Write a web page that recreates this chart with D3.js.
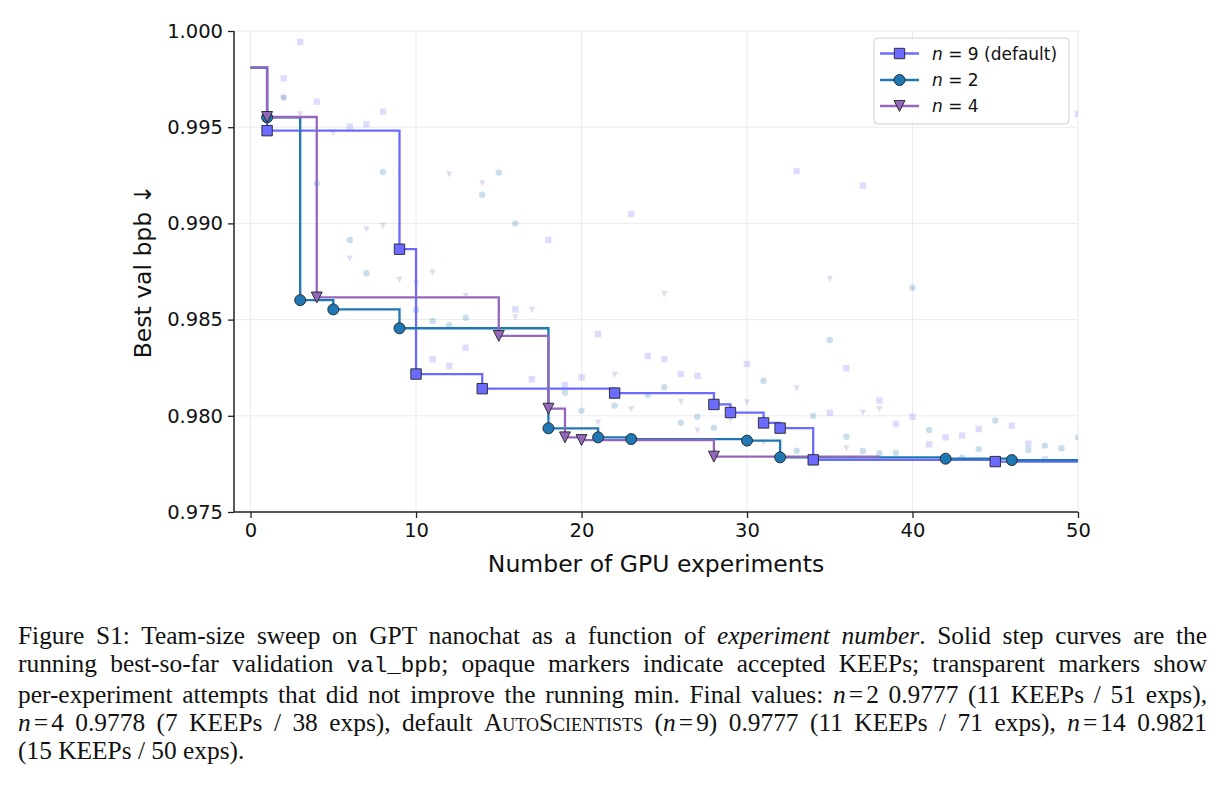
<!DOCTYPE html>
<html>
<head>
<meta charset="utf-8">
<script src="https://cdn.jsdelivr.net/npm/d3@7"></script>
<style>
  html, body { margin: 0; padding: 0; background: #fff; }
  #wrap { position: relative; width: 1223px; height: 787px; overflow: hidden; }
  svg { position: absolute; left: 0; top: 0; }
  #caption {
    position: absolute; left: 18px; top: 621px; width: 1189px;
    font-family: "Liberation Serif", "Times New Roman", serif;
    font-size: 25.4px; line-height: 28px; color: #111;
  }
  #caption .ln { text-align: justify; text-align-last: justify; white-space: nowrap; }
  #caption .ln.last { text-align: left; text-align-last: left; }
  #caption .tt { font-family: "Liberation Mono", "DejaVu Sans Mono", monospace; font-size: 22.5px; }
  #caption .sc { font-variant: small-caps; }
  #caption .eq { margin: 0 0.12em; }
</style>
</head>
<body>
<div id="wrap">
  <svg id="chart" width="1223" height="787"></svg>
  <div id="caption"></div>
</div>
<script>
// ---------------- data ----------------
const xTicks = [0, 10, 20, 30, 40, 50];
const yTicks = [0.975, 0.980, 0.985, 0.990, 0.995, 1.000];
const seriesNames = ["n = 9 (default)", "n = 2", "n = 4"];
const seriesColors = ["#6b6bff", "#1f77b4", "#9467bd"];
const seriesMarkers = ["square", "circle", "triangle"];
const startValue = 0.9981;

// accepted KEEPs (opaque markers)
const n9KeepX = [1, 9, 10, 14, 22, 28, 29, 31, 32, 34, 45];
const n9KeepY = [0.99482, 0.98866, 0.98217, 0.98141, 0.98118, 0.98059, 0.98017, 0.97963, 0.97936, 0.97771, 0.97762];
const n9End = 70;
const n2KeepX = [1, 3, 5, 9, 18, 21, 23, 30, 32, 42, 46];
const n2KeepY = [0.99551, 0.98601, 0.98553, 0.98455, 0.97935, 0.97888, 0.97879, 0.97871, 0.97784, 0.97777, 0.97770];
const n2End = 50;
const n4KeepX = [1, 4, 15, 18, 19, 20, 28];
const n4KeepY = [0.99553, 0.98615, 0.98415, 0.98037, 0.97888, 0.97874, 0.97788];
const n4End = 38;

// non-improving attempts (transparent markers)
const n9TryX = [2, 3, 4, 6, 7, 8, 11, 12, 13, 16, 17, 18, 19, 20, 21, 23, 24, 25, 26, 27, 30, 33, 35, 36, 37, 38, 39, 40, 41, 42, 43, 44, 46, 47, 48, 50];
const n9TryY = [0.99754, 0.99943, 0.99633, 0.99503, 0.99515, 0.99581, 0.98294, 0.98259, 0.98354, 0.98553, 0.98190, 0.98914, 0.98160, 0.98200, 0.98425, 0.99049, 0.98311, 0.98295, 0.98217, 0.98208, 0.98269, 0.99272, 0.98016, 0.98247, 0.99196, 0.98079, 0.97957, 0.97995, 0.97851, 0.97888, 0.97898, 0.97931, 0.97949, 0.97855, 0.97774, 0.99569];
const n2TryX = [2, 4, 6, 7, 8, 10, 11, 12, 13, 14, 15, 16, 19, 20, 22, 24, 25, 26, 27, 28, 31, 33, 34, 35, 36, 37, 38, 39, 40, 41, 43, 44, 45, 47, 48, 49, 50];
const n2TryY = [0.99655, 0.99208, 0.98914, 0.98741, 0.99267, 0.98550, 0.98493, 0.98472, 0.98510, 0.99149, 0.99264, 0.99000, 0.98120, 0.98027, 0.98053, 0.98108, 0.98148, 0.97964, 0.97995, 0.97938, 0.98182, 0.97818, 0.97999, 0.98394, 0.97891, 0.97817, 0.97805, 0.97808, 0.98666, 0.97926, 0.97782, 0.97827, 0.97976, 0.97822, 0.97845, 0.97831, 0.97888];
const n4TryX = [2, 3, 5, 6, 7, 8, 9, 10, 11, 12, 13, 14, 16, 17, 21, 22, 23, 25, 26, 27, 29, 30, 31, 33, 35, 36, 37, 38];
const n4TryY = [0.99650, 0.99567, 0.99471, 0.98817, 0.98969, 0.98987, 0.98706, 0.98689, 0.98744, 0.99255, 0.98623, 0.99208, 0.98511, 0.98550, 0.97964, 0.98212, 0.98035, 0.98632, 0.98073, 0.97923, 0.97980, 0.98070, 0.97860, 0.98143, 0.98711, 0.97831, 0.98016, 0.98035];

const xLabel = "Number of GPU experiments";
const yLabel = "Best val bpb \u2193";

// ---------------- layout ----------------
const svg = d3.select("#chart");
const L = 234, R = 1078, T = 31, B = 512;
const x = d3.scaleLinear().domain([-1, 50]).range([L, R]);
const y = d3.scaleLinear().domain([0.975, 1.0]).range([B, T]);

const series = [
  { name: seriesNames[0], color: seriesColors[0], marker: seriesMarkers[0], kx: n9KeepX, ky: n9KeepY, end: n9End, tx: n9TryX, ty: n9TryY, tryAlpha: 0.24 },
  { name: seriesNames[1], color: seriesColors[1], marker: seriesMarkers[1], kx: n2KeepX, ky: n2KeepY, end: n2End, tx: n2TryX, ty: n2TryY, tryAlpha: 0.24 },
  { name: seriesNames[2], color: seriesColors[2], marker: seriesMarkers[2], kx: n4KeepX, ky: n4KeepY, end: n4End, tx: n4TryX, ty: n4TryY, tryAlpha: 0.24 }
];

function markerPath(type, s) {
  if (type === "square") return `M${-s},${-s}H${s}V${s}H${-s}Z`;
  if (type === "triangle") { const h = s * 1.05; return `M${-h},${-h}L${h},${-h}L0,${h}Z`; }
  const p = d3.path(); p.arc(0, 0, s, 0, 2 * Math.PI); p.closePath(); return p.toString();
}

svg.append("defs").append("clipPath").attr("id", "clip")
  .append("rect").attr("x", L).attr("y", T - 8).attr("width", R - L).attr("height", B - T + 8);

// grid
const grid = svg.append("g");
grid.selectAll(".gx").data(xTicks).join("line")
  .attr("x1", d => x(d)).attr("x2", d => x(d)).attr("y1", T).attr("y2", B)
  .attr("stroke", "#ebebeb").attr("stroke-width", 1);
grid.selectAll(".gy").data(yTicks).join("line")
  .attr("x1", L).attr("x2", R).attr("y1", d => y(d)).attr("y2", d => y(d))
  .attr("stroke", "#ebebeb").attr("stroke-width", 1);

// faint attempts
const plot = svg.append("g").attr("clip-path", "url(#clip)");
series.forEach(s => {
  const pts = s.tx.map((v, i) => [v, s.ty[i]]);
  const sz = s.marker === "triangle" ? 3.0 : 3.2;
  plot.append("g").selectAll("path").data(pts).join("path")
    .attr("d", markerPath(s.marker, sz))
    .attr("transform", d => `translate(${x(d[0])},${y(d[1])})`)
    .attr("fill", s.color).attr("fill-opacity", s.tryAlpha);
});

// step lines + keep markers
const line = d3.line().x(d => x(d[0])).y(d => y(d[1])).curve(d3.curveStepAfter);
series.forEach(s => {
  const pts = [[0, startValue]].concat(s.kx.map((v, i) => [v, s.ky[i]]));
  pts.push([s.end, s.ky[s.ky.length - 1]]);
  plot.append("path").datum(pts).attr("d", line)
    .attr("fill", "none").attr("stroke", s.color).attr("stroke-width", 2.3)
    .attr("stroke-linejoin", "miter");
  const kp = s.kx.map((v, i) => [v, s.ky[i]]);
  const sz = s.marker === "circle" ? 5.5 : 5.2;
  svg.append("g").selectAll("path").data(kp).join("path")
    .attr("d", markerPath(s.marker, sz))
    .attr("transform", d => `translate(${x(d[0])},${y(d[1])})`)
    .attr("fill", s.color).attr("stroke", "#222").attr("stroke-width", 0.9);
});

// axes
const fontTick = "DejaVu Sans, sans-serif";
const xAxis = svg.append("g").attr("transform", `translate(0,${B})`)
  .call(d3.axisBottom(x).tickValues(xTicks).tickFormat(d3.format("d")).tickSize(6).tickPadding(5));
const yAxis = svg.append("g").attr("transform", `translate(${L},0)`)
  .call(d3.axisLeft(y).tickValues(yTicks).tickFormat(d3.format(".3f")).tickSize(6).tickPadding(5));
[xAxis, yAxis].forEach(a => {
  a.select(".domain").attr("stroke", "#222").attr("stroke-width", 1.5);
  a.selectAll(".tick line").attr("stroke", "#222").attr("stroke-width", 1.3);
  a.selectAll(".tick text").attr("font-family", fontTick).attr("font-size", 19.5).attr("fill", "#111");
});
xAxis.select(".domain").attr("d", `M${L},0H${R}`);
yAxis.select(".domain").attr("d", `M0,${B}V${T}`);

svg.append("text").attr("x", (L + R) / 2).attr("y", 572).attr("text-anchor", "middle")
  .attr("font-family", fontTick).attr("font-size", 23.5).attr("fill", "#111").text(xLabel);
svg.append("text").attr("transform", `translate(151,${(T + B) / 2}) rotate(-90)`).attr("text-anchor", "middle")
  .attr("font-family", fontTick).attr("font-size", 23.5).attr("fill", "#111").text(yLabel);

// legend
const lg = svg.append("g");
lg.append("rect").attr("x", 874).attr("y", 38).attr("width", 195).attr("height", 86)
  .attr("rx", 4).attr("fill", "#fff").attr("fill-opacity", 0.85).attr("stroke", "#d0d0d0").attr("stroke-width", 1);
const rowY = [53.5, 80, 106];
series.forEach((s, i) => {
  const g = lg.append("g").attr("transform", `translate(0,${rowY[i]})`);
  g.append("line").attr("x1", 880).attr("x2", 919).attr("y1", 0).attr("y2", 0)
    .attr("stroke", s.color).attr("stroke-width", 2.3);
  g.append("path").attr("d", markerPath(s.marker, s.marker === "circle" ? 5.5 : 5.2))
    .attr("transform", "translate(899.5,0)")
    .attr("fill", s.color).attr("stroke", "#222").attr("stroke-width", 0.9);
  const t = g.append("text").attr("x", 932).attr("y", 6).attr("font-family", fontTick)
    .attr("font-size", 17).attr("fill", "#111");
  const parts = s.name.split(" ");
  t.append("tspan").attr("font-style", "italic").text(parts[0]);
  t.append("tspan").text(" " + parts.slice(1).join(" "));
});

// caption
const captionLines = [
  'Figure S1: Team-size sweep on GPT nanochat as a function of <i>experiment number</i>. Solid step curves are the',
  'running best-so-far validation <span class="tt">val_bpb</span>; opaque markers indicate accepted KEEPs; transparent markers show',
  'per-experiment attempts that did not improve the running min. Final values: <i>n</i><span class="eq">=</span>2 0.9777 (11 KEEPs / 51 exps),',
  '<i>n</i><span class="eq">=</span>4 0.9778 (7 KEEPs / 38 exps), default <span class="sc">AutoScientists</span> (<i>n</i><span class="eq">=</span>9) 0.9777 (11 KEEPs / 71 exps), <i>n</i><span class="eq">=</span>14 0.9821',
  '(15 KEEPs / 50 exps).'
];
d3.select("#caption").selectAll("div").data(captionLines).join("div")
  .attr("class", (d, i) => i === captionLines.length - 1 ? "ln last" : "ln")
  .html(d => d);
</script>
</body>
</html>
